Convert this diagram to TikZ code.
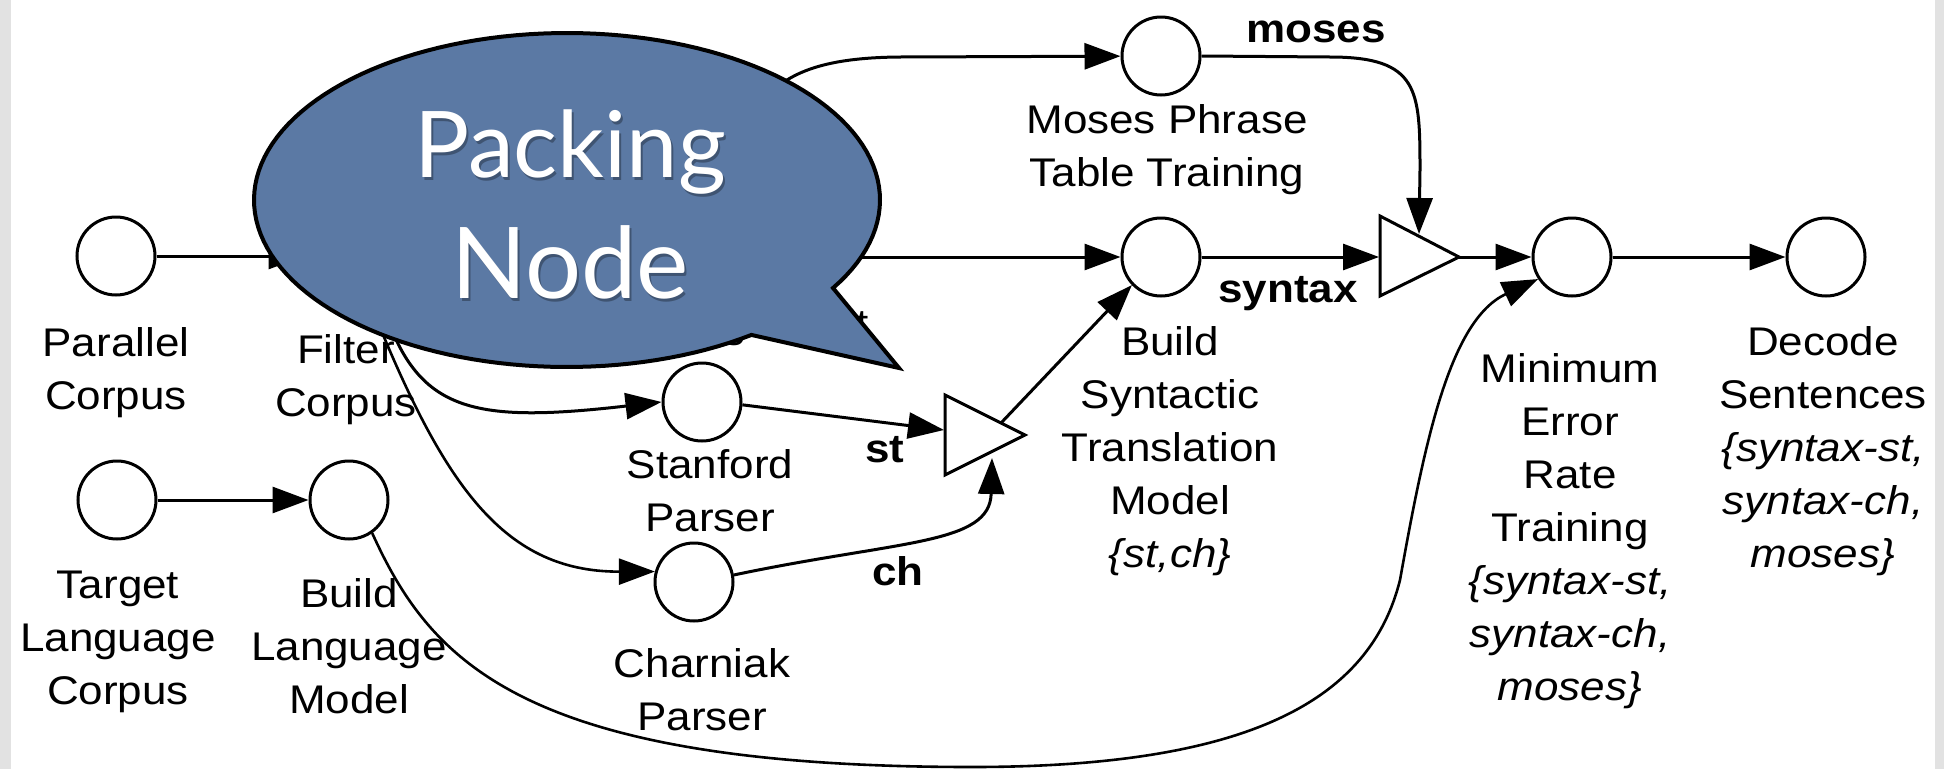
\documentclass[tikz,border=0pt]{standalone}
\usepackage{fontspec}
\setmainfont{Liberation Sans}[FakeStretch=1.1]
\newfontfamily\bubblefont{Lato}
\usetikzlibrary{arrows.meta}
\definecolor{sidegray}{RGB}{226,226,226}
\definecolor{bubblue}{RGB}{91,121,164}
\newcommand\stack[1]{\begin{tabular}[t]{@{}c@{}}#1\end{tabular}}
\begin{document}
\begin{tikzpicture}[x=1pt,y=-1pt,
  stage/.style={circle,draw,line width=3pt,minimum size=78pt,inner sep=0pt,fill=white},
  lab/.style={anchor=base,inner sep=0pt,font=\fontsize{40}{53}\selectfont},
  elab/.style={anchor=base,inner sep=0pt,font=\fontsize{40}{53}\selectfont\bfseries},
  conn/.style={line width=3pt,-{Triangle[length=36pt,width=26pt]}},
  merge/.style={draw,line width=3pt,fill=white,line join=miter},
  bubtext/.style={anchor=base,inner sep=0pt,text=white,font=\bubblefont\fontsize{92}{121}\selectfont}]
\useasboundingbox (0,0) rectangle (1944,769);
\fill[sidegray] (0,0) rectangle (1944,769);
\fill[white] (11,0) rectangle (1935,769);

% stages
\node[stage] (par) at (116,256) {};
\node[stage] (filt) at (345,256) {};
\node[stage] (wa) at (713,257) {};
\node[stage] (moses) at (1161,56) {};
\node[stage] (bst) at (1161,257) {};
\node[stage] (stan) at (702,402) {};
\node[stage] (char) at (694,582) {};
\node[stage] (tgt) at (117,500) {};
\node[stage] (blm) at (349,500) {};
\node[stage] (mert) at (1572,257) {};
\node[stage] (dec) at (1826,257) {};

% merge triangles
\draw[merge] (945,395) -- (945,475) -- (1025,435) -- cycle;
\coordinate (m1st) at (944,430);
\coordinate (m1ch) at (992,458);
\coordinate (m1out) at (1001,423);
\draw[merge] (1380,216) -- (1380,296) -- (1459,257) -- cycle;
\coordinate (m2in) at (1379,257);
\coordinate (m2mo) at (1419,234);
\coordinate (m2out) at (1459,257);

% connectors
\draw[conn] (par) -- (filt);
\draw[conn] (filt) -- (wa);
\draw[conn] (wa) -- (bst);
\draw[conn] (wa.70) .. controls (740,100) and (770,58) .. (900,57) -- (moses);
\draw[conn] (filt.-40) .. controls (410,410) and (460,425) .. (stan.west);
\draw[conn,line width=2.6pt] (filt.-60) .. controls (440,480) and (500,572) .. (char.165);
\draw[conn] (stan.-4) -- (m1st);
\draw[conn] (char.10) .. controls (900,540) and (990,545) .. (m1ch);
\draw[conn] (m1out) -- (bst.224);
\draw[conn] (bst) -- (m2in);
\draw[conn] (moses.east) -- (1330,57) .. controls (1419,57) and (1420,90) .. (1420,170) -- (m2mo);
\draw[conn] (m2out) -- (mert);
\draw[conn] (mert) -- (dec);
\draw[conn] (tgt) -- (blm);
\draw[conn,line width=2.6pt] (blm.-55) .. controls (430,660) and (520,767) .. (972,767)
   .. controls (1250,767) and (1370,700) .. (1400,580)
   .. controls (1425,440) and (1450,320) .. (mert.213);

% edge labels
\node[elab] (lmoses) at (1316,42) {moses};
\node[elab] (lsyntax) at (1288,302) {syntax};
\node[elab] (lst) at (885,462) {st};
\node[elab] (lch) at (898,585) {ch};

% stage labels
\node[lab] (lpar) at (116,356) {\stack{Parallel\\Corpus}};
\node[lab] (lfilt) at (346,363) {\stack{Filter\\Corpus}};
\node[lab] (ltgt) at (118,598) {\stack{Target\\Language\\Corpus}};
\node[lab] (lblm) at (349,607) {\stack{Build\\Language\\Model}};
\node[lab] (lstan) at (710,478) {\stack{Stanford\\Parser}};
\node[lab] (lchar) at (702,677) {\stack{Charniak\\Parser}};
\node[lab] (lmos) at (1167,133) {\stack{Moses Phrase\\Table Training}};
\node[lab] (lbst) at (1170,355) {\stack{Build\\Syntactic\\Translation\\Model\\\textit{\{st,ch\}}}};
\node[lab] (lmert) at (1570,382) {\stack{Minimum\\Error\\Rate\\Training\\\textit{\{syntax-st,}\\\textit{syntax-ch,}\\\textit{moses\}}}};
\node[lab] (ldec) at (1823,355) {\stack{Decode\\Sentences\\\textit{\{syntax-st,}\\\textit{syntax-ch,}\\\textit{moses\}}}};
\node[lab] (lwa) at (713,337) {Word Alignment};

% speech bubble
\filldraw[fill=bubblue,draw=black,line width=4pt,line join=miter]
  plot[domain=53.9:391.8,samples=140] ({567+313*cos(\x)},{200+167*sin(\x)}) -- (899,368) -- cycle;
\node[bubtext,text=black,opacity=0.3] (pkshadow) at (572,180) {\stack{Packing\\{\fontsize{99}{121}\selectfont Node}}};
\node[bubtext] (pk) at (570,177) {\stack{Packing\\{\fontsize{99}{121}\selectfont Node}}};
\end{tikzpicture}
\end{document}
